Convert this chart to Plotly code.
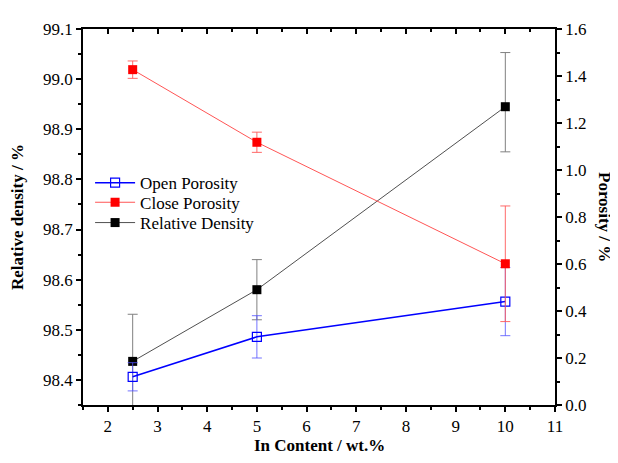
import plotly.graph_objects as go

x_content = [2.5, 5, 10]

rel_density = [98.437, 98.580, 98.945]
rel_err_plus = [0.094, 0.060, 0.108]
rel_err_minus = [0.094, 0.060, 0.090]

open_por = [0.12, 0.29, 0.44]
open_err = [0.06, 0.09, 0.145]

close_por = [1.427, 1.118, 0.601]
close_err = [0.037, 0.043, 0.246]

FONT = "Liberation Serif, Times New Roman, serif"

fig = go.Figure()

fig.add_trace(go.Scatter(
    x=x_content, y=open_por, name="Open Porosity", yaxis="y2", legend="legend",
    mode="lines+markers",
    line=dict(color="#0000FF", width=1.5),
    marker=dict(symbol="square-open", size=9, color="#0000FF", line=dict(width=1.2)),
    error_y=dict(type="data", array=open_err, color="rgba(80,80,255,0.8)", thickness=1, width=5),
))
fig.add_trace(go.Scatter(
    x=x_content, y=close_por, name="Close Porosity", yaxis="y2", legend="legend2",
    mode="lines+markers",
    line=dict(color="#FF5555", width=1),
    marker=dict(symbol="square", size=9, color="#FF0000"),
    error_y=dict(type="data", array=close_err, color="rgba(255,90,90,0.9)", thickness=1, width=5),
))
fig.add_trace(go.Scatter(
    x=x_content, y=rel_density, name="Relative Density", yaxis="y", legend="legend3",
    mode="lines+markers",
    line=dict(color="#505050", width=1),
    marker=dict(symbol="square", size=9, color="#000000"),
    error_y=dict(type="data", array=rel_err_plus, arrayminus=rel_err_minus,
                 color="#808080", thickness=1, width=5),
))
# helper trace for top axis
fig.add_trace(go.Scatter(x=[None], y=[None], xaxis="x2", showlegend=False, hoverinfo="skip"))

axis_common = dict(showline=True, linecolor="black", linewidth=1.5, showgrid=False,
                   zeroline=False, tickcolor="black", tickwidth=1.5,
                   tickfont=dict(family=FONT, size=17, color="black"))

leg_common = dict(x=0.015, xanchor="left", yanchor="middle", bgcolor="rgba(0,0,0,0)",
                  font=dict(family=FONT, size=17, color="black"), itemwidth=40)

fig.update_layout(
    width=610, height=455,
    margin=dict(l=75, r=63, t=12, b=58),
    paper_bgcolor="white", plot_bgcolor="white",
    font=dict(family=FONT, size=17, color="black"),
    showlegend=True,
    legend=dict(y=0.590, **leg_common),
    legend2=dict(y=0.538, **leg_common),
    legend3=dict(y=0.484, **leg_common),
    xaxis=dict(range=[1.5, 11], dtick=1, tick0=0, ticks="outside", ticklen=5,
               minor=dict(dtick=0.5, ticks="outside", ticklen=3, tickcolor="black", tickwidth=1.5),
               **axis_common),
    xaxis2=dict(range=[1.5, 11], overlaying="x", side="top", dtick=1, tick0=0,
                ticks="inside", ticklen=5, showticklabels=False,
                minor=dict(dtick=0.5, ticks="inside", ticklen=3, tickcolor="black", tickwidth=1.5),
                **axis_common),
    yaxis=dict(range=[98.35, 99.1], dtick=0.1, tick0=98.4, tickformat=".1f",
               ticks="outside", ticklen=5,
               minor=dict(dtick=0.05, ticks="outside", ticklen=3, tickcolor="black", tickwidth=1.5),
               **axis_common),
    yaxis2=dict(range=[0, 1.6], dtick=0.2, tickformat=".1f", overlaying="y", side="right",
                ticks="outside", ticklen=5,
                minor=dict(dtick=0.1, ticks="outside", ticklen=3, tickcolor="black", tickwidth=1.5),
                **axis_common),
    annotations=[
        dict(text="<b>Relative density / %</b>", x=0, y=0.5, xref="paper", yref="paper",
             showarrow=False, textangle=-90, font=dict(family=FONT, size=17),
             xanchor="center", yanchor="middle", xshift=-66),
        dict(text="<b>Porosity / %</b>", x=1.0, y=0.5, xref="paper", yref="paper",
             showarrow=False, textangle=90, font=dict(family=FONT, size=17),
             xanchor="center", yanchor="middle", xshift=50),
        dict(text="<b>In Content / wt.%</b>", x=0.5, y=0, xref="paper", yref="paper",
             showarrow=False, font=dict(family=FONT, size=17),
             xanchor="center", yanchor="middle", yshift=-40),
    ],
)

fig.write_html("out.html")
